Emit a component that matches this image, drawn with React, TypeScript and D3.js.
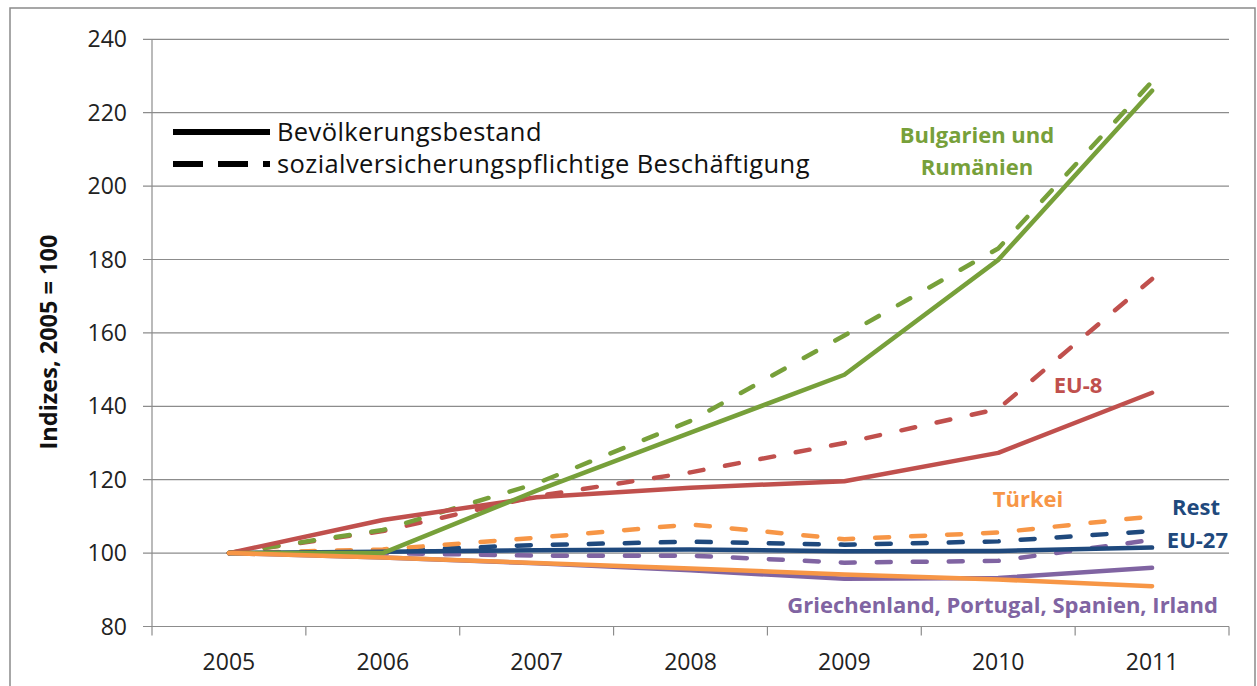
import React from "react";
import * as d3 from "d3";

const years = ["2005", "2006", "2007", "2008", "2009", "2010", "2011"];
const yTicks = [80, 100, 120, 140, 160, 180, 200, 220, 240];

const greenPop = [100, 100, 117, 132.8, 148.6, 179.9, 226];
const greenEmp = [100, 106.3, 119, 136, 159.3, 183, 228.5];
const redPop = [100, 109, 115.2, 117.8, 119.6, 127.3, 143.7];
const redEmp = [100, 106, 115.5, 122, 130, 139.3, 174.7];
const orangePop = [100, 98.8, 97.3, 95.8, 94.2, 92.8, 91];
const orangeEmp = [100, 101, 104.2, 107.8, 103.8, 105.6, 110];
const bluePop = [100, 100.4, 100.8, 101, 100.5, 100.6, 101.5];
const blueEmp = [100, 100.6, 102.2, 103.1, 102.3, 103.2, 106];
const purplePop = [100, 98.8, 97.2, 95.3, 93, 93.2, 96];
const purpleEmp = [100, 100, 99.3, 99.3, 97.4, 97.9, 103.6];

const GREEN = "#77A03A";
const RED = "#C0504D";
const ORANGE = "#F79646";
const BLUE = "#1F497D";
const PURPLE = "#8064A2";

const series = [
  { v: purpleEmp, c: PURPLE, dash: true },
  { v: blueEmp, c: BLUE, dash: true },
  { v: orangeEmp, c: ORANGE, dash: true },
  { v: redEmp, c: RED, dash: true },
  { v: greenEmp, c: GREEN, dash: true },
  { v: purplePop, c: PURPLE, dash: false },
  { v: bluePop, c: BLUE, dash: false },
  { v: redPop, c: RED, dash: false },
  { v: greenPop, c: GREEN, dash: false },
  { v: orangePop, c: ORANGE, dash: false },
];

const FONT = "'Open Sans', 'Noto Sans', sans-serif";

export default function App() {
  const left = 152, right = 1229, top = 39.3, bottom = 626.5;
  const x = d3.scaleBand().domain(years).range([left, right]);
  const y = d3.scaleLinear().domain([80, 240]).range([bottom, top]);
  const bw = x.bandwidth();
  const cx = (i: number) => (x(years[i]) as number) + bw / 2;
  const line = d3.line<number>().x((_, i) => cx(i)).y((d) => y(d));
  const grid = "#8C8C8C";

  return (
    <svg width={1257} height={686} style={{ position: "absolute", left: 0, top: 0, background: "#fff" }}>
      <rect x={10} y={8} width={1245} height={690} fill="#fff" stroke="#8A8A8A" strokeWidth={1.5} />
      {yTicks.map((t) => (
        <g key={t}>
          <line x1={143} x2={right} y1={y(t)} y2={y(t)} stroke={grid} strokeWidth={1.2} />
          <text x={127} y={y(t) + 8} textAnchor="end" fontFamily={FONT} fontSize={23} fill="#222">{t}</text>
        </g>
      ))}
      <line x1={left} x2={left} y1={top} y2={bottom} stroke={grid} strokeWidth={1.2} />
      {years.map((yr, i) => (
        <g key={yr}>
          <line x1={(x(yr) as number)} x2={(x(yr) as number)} y1={bottom} y2={bottom + 9} stroke={grid} strokeWidth={1.2} />
          <text x={cx(i)} y={670} textAnchor="middle" fontFamily={FONT} fontSize={23} fill="#222">{yr}</text>
        </g>
      ))}
      <line x1={right} x2={right} y1={bottom} y2={bottom + 9} stroke={grid} strokeWidth={1.2} />
      <text transform="translate(57,342) rotate(-90)" textAnchor="middle" fontFamily={FONT} fontWeight="bold" fontSize={23.5} fill="#111">Indizes, 2005 = 100</text>

      {series.map((s, k) => (
        <path key={k} d={line(s.v) as string} fill="none" stroke={s.c} strokeWidth={4.5}
          strokeLinecap="round" strokeLinejoin="round"
          strokeDasharray={s.dash ? "14 22" : undefined} />
      ))}

      <line x1={173} x2={270} y1={132} y2={132} stroke="#000" strokeWidth={6} />
      <line x1={173} x2={270} y1={164} y2={164} stroke="#000" strokeWidth={6} strokeDasharray="30 15" />
      <text x={277} y={141} fontFamily={FONT} fontSize={25.5} letterSpacing={0.4} fill="#111">Bevölkerungsbestand</text>
      <text x={277} y={173} fontFamily={FONT} fontSize={25.5} letterSpacing={0.4} fill="#111">sozialversicherungspflichtige Beschäftigung</text>

      <g fontFamily={FONT} fontWeight="bold" fontSize={22}>
        <text x={977} y={143} textAnchor="middle" fill={GREEN}>Bulgarien und</text>
        <text x={977} y={175} textAnchor="middle" fill={GREEN}>Rumänien</text>
        <text x={1078} y={393} textAnchor="middle" fill={RED}>EU-8</text>
        <text x={1028} y={507} textAnchor="middle" fill={ORANGE}>Türkei</text>
        <text x={1220} y={515} textAnchor="end" fill={BLUE}>Rest</text>
        <text x={1228} y={548} textAnchor="end" fill={BLUE}>EU-27</text>
        <text x={1218} y={613} textAnchor="end" fill={PURPLE}>Griechenland, Portugal, Spanien, Irland</text>
      </g>
    </svg>
  );
}
